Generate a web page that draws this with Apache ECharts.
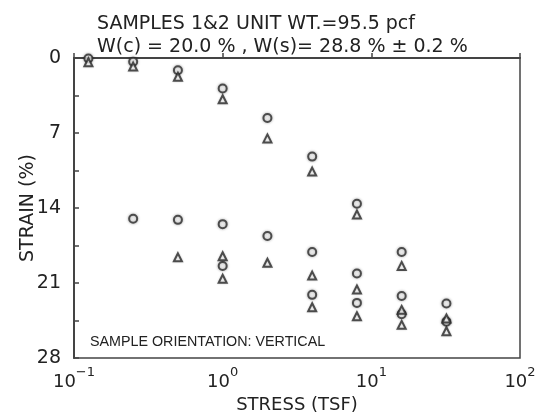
<!DOCTYPE html>
<html>
<head>
<meta charset="utf-8">
<script src="https://cdn.jsdelivr.net/npm/echarts@6/dist/echarts.min.js"></script>
<style>html,body{margin:0;padding:0;background:#fff}#c{width:542px;height:419px}</style>
</head>
<body>
<div id="c"></div>
<script>
// Circle readings: stress (TSF) and strain (%)
var circleStress = [0.125, 0.25, 0.5, 1, 2, 4, 8,
                    0.25, 0.5, 1, 2, 4, 8, 16,
                    1, 4, 8, 16, 16, 32, 32];
var circleStrain = [0.05, 0.35, 1.15, 2.85, 5.6, 9.2, 13.6,
                    15.0, 15.1, 15.5, 16.6, 18.1, 20.1, 18.1,
                    19.4, 22.1, 22.85, 22.2, 23.9, 22.9, 24.6];
// Triangle readings
var triStress = [0.125, 0.25, 0.5, 1, 2, 4, 8,
                 0.5, 1, 2, 4, 8, 16,
                 1, 4, 8, 16, 16, 32, 32];
var triStrain = [0.4, 0.8, 1.75, 3.85, 7.5, 10.6, 14.6,
                 18.6, 18.5, 19.1, 20.3, 21.6, 19.4,
                 20.6, 23.25, 24.1, 23.5, 24.9, 24.3, 25.5];
var yTicks = [0, 7, 14, 21, 28];
var titleLines = ['SAMPLES 1&2 UNIT WT.=95.5 pcf', 'W(c) = 20.0 % , W(s)= 28.8 % \u00b1 0.2 %'];
var noteText = 'SAMPLE ORIENTATION: VERTICAL';

function pairs(xs, ys) { return xs.map(function (x, i) { return [x, ys[i]]; }); }

var FONT = 'DejaVu Sans, Liberation Sans, sans-serif';
var FONT2 = 'Liberation Sans, Arial, sans-serif';
var ink = '#2b2b2b';
var chart = echarts.init(document.getElementById('c'), null, {renderer: 'canvas'});
chart.setOption({
  animation: false,
  backgroundColor: '#fff',
  title: {
    text: titleLines.join('\n'),
    left: 92, top: 8,
    textStyle: {fontFamily: FONT, fontSize: 19, fontWeight: 'normal', color: '#222', lineHeight: 23}
  },
  grid: {left: 74, right: 22, top: 58, bottom: 57, show: true, borderColor: '#444', borderWidth: 1.5},
  xAxis: {
    type: 'log', logBase: 10, min: 0.1, max: 100,
    name: 'STRESS (TSF)', nameLocation: 'middle', nameGap: 37,
    nameTextStyle: {fontFamily: FONT, fontSize: 18, color: '#222'},
    axisLine: {show: true, lineStyle: {color: '#444', width: 2}},
    axisTick: {show: true, inside: true, length: 5, lineStyle: {color: '#444', width: 1.5}},
    splitLine: {show: false},
    axisLabel: {
      margin: 8,
      formatter: function (v) {
        var e = Math.round(Math.log10(v));
        return '{b|10}{s|' + (e < 0 ? '\u2212' + (-e) : e) + '}';
      },
      rich: {
        b: {fontFamily: FONT, fontSize: 18, color: '#222', verticalAlign: 'bottom'},
        s: {fontFamily: FONT, fontSize: 13, color: '#222', verticalAlign: 'top', padding: [0, 0, 12, 0]}
      }
    }
  },
  yAxis: {
    type: 'value', inverse: true, min: 0, max: 28, interval: 3.5,
    name: 'STRAIN (%)', nameLocation: 'middle', nameGap: 36, nameMoveOverlap: false,
    nameTextStyle: {fontFamily: FONT, fontSize: 19, color: '#222'},
    axisLine: {show: true, lineStyle: {color: '#444', width: 2}},
    axisTick: {show: true, inside: true, length: 5, lineStyle: {color: '#444', width: 1.5}},
    splitLine: {show: false},
    axisLabel: {
      margin: 13, fontFamily: FONT, fontSize: 19, color: '#222',
      formatter: function (v) { return yTicks.indexOf(v) >= 0 ? String(v) : ''; }
    }
  },
  graphic: [{
    type: 'text', left: 90, top: 335,
    style: {text: noteText, fontFamily: FONT2, fontSize: 14.3, fill: '#222'}
  }],
  series: [{
    type: 'scatter', name: 'circle', symbol: 'circle', symbolSize: 8, clip: false,
    itemStyle: {color: '#fff', borderColor: ink, borderWidth: 2, shadowBlur: 3, shadowColor: 'rgba(0,0,0,0.35)'},
    data: pairs(circleStress, circleStrain)
  }, {
    type: 'scatter', name: 'triangle', symbol: 'triangle', symbolSize: 8, clip: false,
    itemStyle: {color: '#fff', borderColor: ink, borderWidth: 2, shadowBlur: 2, shadowColor: 'rgba(0,0,0,0.25)'},
    data: pairs(triStress, triStrain)
  }]
});
</script>
</body>
</html>
